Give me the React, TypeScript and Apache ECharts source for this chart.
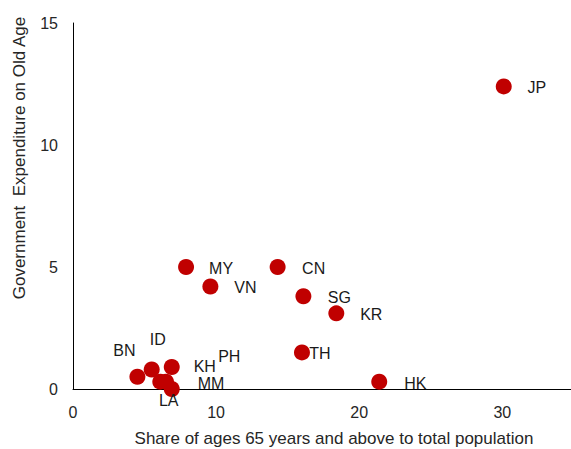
import React, { useEffect, useRef } from "react";
import * as echarts from "echarts";

const codes = ["JP", "MY", "CN", "VN", "SG", "KR", "TH", "HK", "BN", "ID", "KH", "PH", "MM", "LA"];
const shareAged = [30.1, 7.9, 14.3, 9.6, 16.1, 18.4, 16.0, 21.4, 4.5, 5.5, 6.9, 6.1, 6.5, 6.9];
const oldAgeSpending = [12.4, 5.0, 5.0, 4.2, 3.8, 3.1, 1.5, 0.3, 0.5, 0.8, 0.9, 0.3, 0.3, 0.0];
const labelOffsets: [number, number][] = [
  [33, 1], [35, 1], [36, 1], [35, 1], [36, 1], [35, 1], [18, 1], [36, 2],
  [-13, -26], [6, -30], [33, -1], [69, -25], [45, 2], [-3, 11],
];
const xTicks = [0, 10, 20, 30];
const yTicks = [0, 5, 10, 15];

export default function App() {
  const ref = useRef<HTMLDivElement>(null);
  useEffect(() => {
    if (!ref.current) return;
    const chart = echarts.init(ref.current, undefined, { renderer: "svg" });
    const font = "Liberation Sans";
    chart.setOption({
      animation: false,
      textStyle: { fontFamily: font },
      grid: { left: 73, top: 23, bottom: 60, right: 0, containLabel: false },
      xAxis: {
        type: "value",
        min: 0,
        max: 34.8,
        interval: 10,
        splitLine: { show: false },
        axisTick: { show: false },
        axisLine: { lineStyle: { color: "#000", width: 1 } },
        axisLabel: {
          fontSize: 16,
          fontFamily: font,
          color: "#262626",
          margin: 15,
          showMaxLabel: false,
          formatter: (v: number) => (xTicks.includes(v) ? String(v) : ""),
        },
      },
      yAxis: {
        type: "value",
        min: 0,
        max: 15,
        interval: 5,
        splitLine: { show: false },
        axisTick: { show: false },
        axisLine: { show: true, lineStyle: { color: "#000", width: 1 } },
        axisLabel: {
          fontSize: 16,
          fontFamily: font,
          color: "#262626",
          margin: 15,
          formatter: (v: number) => (yTicks.includes(v) ? String(v) : ""),
        },
      },
      graphic: [
        {
          type: "text",
          x: 19,
          y: 158,
          rotation: Math.PI / 2,
          style: {
            text: "Government  Expenditure on Old Age",
            fontSize: 17,
            fontFamily: font,
            fill: "#262626",
            align: "center",
            verticalAlign: "middle",
          },
        },
        {
          type: "text",
          x: 334,
          y: 438,
          style: {
            text: "Share of ages 65 years and above to total population",
            fontSize: 17,
            fontFamily: font,
            fill: "#262626",
            align: "center",
            verticalAlign: "middle",
          },
        },
      ],
      series: [
        {
          type: "scatter",
          symbolSize: 16,
          itemStyle: { color: "#C00000", opacity: 1 },
          clip: false,
          data: codes.map((c, i) => ({
            value: [shareAged[i], oldAgeSpending[i]],
            name: c,
            label: {
              show: true,
              position: "inside",
              offset: labelOffsets[i],
              formatter: c,
              fontSize: 16,
              color: "#1a1a1a",
              fontFamily: font,
            },
          })),
        },
      ],
    });
    return () => chart.dispose();
  }, []);
  return (
    <div
      ref={ref}
      style={{ position: "fixed", left: 0, top: 0, width: 571, height: 449, background: "#fff" }}
    />
  );
}
